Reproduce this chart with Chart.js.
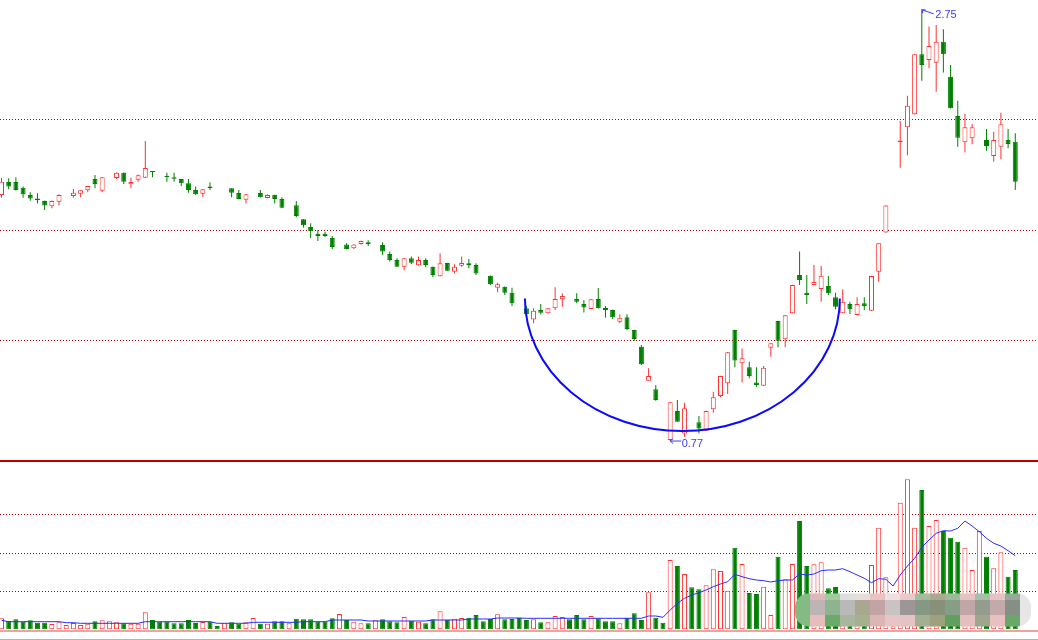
<!DOCTYPE html>
<html><head><meta charset="utf-8">
<script src="https://cdn.jsdelivr.net/npm/chart.js@4.4.1/dist/chart.umd.min.js"></script>
<style>
html,body{margin:0;padding:0;background:#fff;overflow:hidden;}
#wrap{position:relative;width:1038px;height:640px;background:#fff;}
#price{position:absolute;left:0;top:0;}
#sep{position:absolute;left:0;top:460px;width:1038px;height:2px;background:#b80000;}
#vol{position:absolute;left:0;top:462px;}
</style></head><body>
<div id="wrap">
<canvas id="price" width="1038" height="460"></canvas>
<div id="sep"></div>
<canvas id="vol" width="1038" height="178"></canvas>
</div>
<script>
// ---- data (one entry per trading day; null = no candle drawn) ----
const opens = [1.898,1.958,1.958,1.932,1.898,1.883,1.871,1.847,1.868,null,
 1.894,1.904,1.920,1.972,1.918,null,1.977,2.001,1.948,1.969,
 1.978,2.009,null,1.987,1.980,1.972,1.952,1.921,1.904,1.938,
 null,null,1.929,1.908,1.877,null,1.908,1.885,1.900,1.880,
 null,1.851,1.787,1.752,1.721,1.721,1.701,null,1.671,1.654,
 1.674,1.682,null,1.669,1.628,1.600,1.570,1.608,1.576,1.600,
 1.570,1.526,1.587,1.547,1.574,1.585,1.577,null,1.528,1.473,
 1.478,1.450,null,1.379,1.328,1.371,1.356,1.379,1.420,null,
 1.422,1.399,1.376,1.422,1.380,1.371,1.317,1.338,1.279,1.203,
 1.047,1.007,null,0.775,0.908,0.805,null,0.856,0.817,0.916,
 0.977,1.035,1.279,1.127,1.108,1.038,1.024,1.198,1.321,1.237,
 1.356,1.532,1.450,1.486,1.467,1.481,1.429,1.356,1.399,1.348,
 1.402,1.368,1.547,1.726,null,2.140,2.209,2.269,2.544,2.518,
 2.505,2.602,2.441,2.261,2.140,2.159,null,2.151,2.077,2.120,
 2.151,2.143];
const highs = [1.978,1.975,1.980,1.937,1.911,1.906,1.873,1.873,1.902,null,
 1.926,1.921,1.941,1.990,1.981,null,2.002,2.002,1.978,1.993,
 2.146,2.009,null,2.001,2.001,1.972,1.972,1.937,1.925,1.957,
 null,null,1.930,1.921,1.903,null,1.921,1.902,1.900,1.888,
 null,1.871,1.788,1.769,1.737,1.729,1.711,null,1.678,1.673,
 1.689,1.691,null,1.682,1.639,1.608,1.609,1.616,1.616,1.608,
 1.571,1.631,1.588,1.581,1.616,1.605,1.585,null,1.529,1.496,
 1.479,1.473,null,1.389,1.379,1.399,1.380,1.475,1.448,null,
 1.448,1.417,1.421,1.472,1.389,1.372,1.351,1.351,1.280,1.211,
 1.104,1.027,null,0.949,0.958,0.946,null,0.885,0.909,0.996,
 1.069,1.178,1.280,1.195,1.134,1.108,1.114,1.219,1.322,1.348,
 1.487,1.639,1.532,1.577,1.573,1.527,1.450,1.466,1.409,1.429,
 1.429,1.528,1.678,1.851,null,2.238,2.354,2.545,2.750,2.671,
 2.678,2.659,2.495,2.331,2.270,2.224,null,2.201,2.189,2.276,
 2.201,2.182];
const lows = [1.886,1.925,1.919,1.886,1.872,1.860,1.830,1.838,1.850,null,
 1.886,1.888,1.911,1.929,1.911,null,1.972,1.949,1.929,1.959,
 1.977,1.980,null,1.959,1.959,1.940,1.909,1.898,1.888,1.921,
 null,null,1.888,1.879,1.859,null,1.887,1.884,1.859,1.838,
 null,1.796,1.749,1.701,1.688,1.706,1.651,null,1.650,1.651,
 1.671,1.665,null,1.623,1.593,1.569,1.553,1.581,1.573,1.567,
 1.521,1.525,1.550,1.538,1.570,1.562,1.532,null,1.486,1.452,
 1.440,1.389,null,1.344,1.310,1.351,1.355,1.371,1.386,null,
 1.402,1.360,1.375,1.378,1.336,1.330,1.310,1.279,1.230,1.119,
 1.046,0.955,null,0.770,0.858,0.790,null,0.805,0.816,0.900,
 0.971,0.986,1.108,1.038,1.058,1.019,1.023,1.157,1.200,1.200,
 1.355,1.486,1.399,1.485,1.409,1.440,1.374,1.355,1.353,1.347,
 1.371,1.367,1.501,1.725,null,2.024,2.081,2.268,2.423,2.480,
 2.372,2.460,2.295,2.120,2.093,2.131,null,2.102,2.051,2.062,
 2.113,1.921];
const closes = [1.959,1.937,1.921,1.902,1.883,1.874,1.850,1.871,1.898,null,
 1.909,1.920,1.940,1.949,1.980,null,2.001,1.959,1.958,1.989,
 2.022,2.003,null,1.981,1.973,1.952,1.921,1.902,1.925,1.931,
 null,null,1.909,1.880,1.902,null,1.888,1.898,1.880,1.840,
 null,1.802,1.760,1.732,1.711,1.711,1.660,null,1.651,1.672,
 1.688,1.674,null,1.639,1.600,1.570,1.608,1.588,1.600,1.577,
 1.532,1.585,1.551,1.570,1.587,1.576,1.538,null,1.489,1.489,
 1.450,1.402,null,1.351,1.368,1.359,1.379,1.422,1.435,null,
 1.409,1.382,1.420,1.379,1.371,1.338,1.336,1.284,1.238,1.122,
 1.068,0.958,null,0.948,0.859,0.920,null,0.828,0.908,0.971,
 1.068,1.177,1.139,1.150,1.068,1.027,1.106,1.218,1.230,1.347,
 1.486,1.509,1.440,1.500,1.528,1.448,1.386,1.409,1.374,1.399,
 1.389,1.527,1.677,1.850,null,2.149,2.308,2.544,2.495,2.582,
 2.602,2.544,2.296,2.161,2.209,2.209,null,2.123,2.151,2.223,
 2.133,1.959];
// volume (relative units), up-day flag for the volume bar, and the 10-day volume average line
const volumes = [11.0,8.3,10.0,7.6,9.0,6.6,6.6,5.3,7.0,4.3,
 6.3,4.3,5.6,8.0,9.0,8.0,7.0,6.0,5.6,5.6,
 17.0,9.3,7.6,7.6,6.0,6.0,9.3,6.3,7.3,7.6,
 3.3,6.0,7.0,5.6,7.0,11.3,5.6,5.6,8.0,8.0,
 6.0,10.6,10.0,10.0,7.6,7.6,11.0,15.3,9.3,7.6,
 6.0,6.0,9.0,10.0,8.0,7.0,12.3,8.6,7.6,6.0,
 10.0,18.0,9.3,10.6,11.3,11.6,14.3,8.0,10.3,15.0,
 10.0,10.3,11.3,9.3,10.0,7.0,7.0,13.3,12.3,10.0,
 14.3,10.0,13.3,11.0,8.0,8.0,6.0,11.6,16.0,9.3,
 37.0,11.6,6.6,69.3,63.3,55.3,42.0,40.0,44.0,60.0,
 58.3,38.6,81.6,65.3,36.3,35.3,42.6,14.3,72.6,50.0,
 65.3,108.3,63.3,65.0,67.0,41.0,42.3,30.0,33.0,28.0,
 30.0,64.3,101.6,52.0,3.0,126.6,150.0,101.6,139.3,103.3,
 109.3,98.3,91.6,87.6,81.6,59.3,98.3,72.6,61.0,77.0,
 52.6,59.3];
const volUp = [1,0,0,0,0,0,0,1,1,1, 1,1,1,0,1,1,1,0,1,1,
 1,0,0,0,0,0,0,0,1,0, 0,1,0,0,1,1,0,1,0,0,
 1,0,0,0,0,0,0,1,0,1, 1,0,1,0,0,0,1,0,1,0,
 0,1,0,1,1,0,0,0,0,1, 0,0,0,0,1,0,1,1,1,0,
 0,0,1,0,0,0,1,0,0,0, 1,0,0,1,0,1,0,0,1,1,
 1,1,0,1,0,0,1,1,0,1, 1,0,0,1,1,0,0,1,0,1,
 0,1,1,1,1,1,1,1,0,1, 1,0,0,0,1,1,1,0,1,1,
 0,0];
const volMA = [9.0,7.6,7.6,7.6,7.6,7.6,7.6,7.6,7.6,6.6,
 6.6,6.0,6.0,6.0,6.0,6.0,6.0,6.0,6.0,6.0,
 7.6,7.6,7.6,7.6,7.6,7.6,7.6,7.6,7.6,7.6,
 6.0,6.0,6.0,6.0,6.0,7.0,7.0,7.0,7.0,7.0,
 7.0,7.0,7.6,7.6,7.6,7.6,9.3,9.3,9.3,9.3,
 9.3,8.3,8.3,8.3,8.3,8.3,8.3,8.3,8.3,8.3,
 9.3,9.3,9.3,9.3,9.3,10.3,10.3,10.3,10.3,11.3,
 11.3,11.3,11.3,11.0,11.0,11.0,11.0,11.0,11.0,11.0,
 11.0,11.0,11.0,11.0,11.0,11.0,11.0,11.0,11.0,11.0,
 13.3,13.3,12.0,19.3,26.0,31.0,34.3,36.6,39.3,42.6,
 45.3,47.6,55.0,52.6,50.6,49.3,48.6,47.3,48.6,49.3,
 49.3,55.3,54.3,55.3,58.6,59.3,59.3,60.6,57.6,54.3,
 51.0,46.6,50.6,50.0,43.3,54.3,63.3,71.0,82.0,89.3,
 96.0,98.6,98.3,101.0,108.3,103.3,97.6,91.0,86.0,83.3,
 78.6,73.6];
// horizontal reference (grid) levels
const priceGrid = [1.233, 1.738, 2.247];
const volGrid = [38.2, 76.3, 114.4];
// rounded-bottom (arc) annotation, in data terms
const arcFrom = 72.8, arcTo = 116.6, arcRim = 1.424, arcBottom = 0.816;
const highMarkIndex = 128, lowMarkIndex = 93;

// ---- styling ----
const RED = '#ff3030', GREEN = '#008000', GRIDC = '#b00000';
const X_MIN = -0.21, X_MAX = 144.16;

const idx = opens.map((_, i) => i).filter(i => opens[i] !== null);
const isUp = i => closes[i] >= opens[i];
const bodyData = idx.map(i => ({x: i, y: [opens[i], closes[i]]}));
const wickData = idx.map(i => ({x: i, y: [lows[i], highs[i]]}));
const bodyFill = idx.map(i => isUp(i) ? '#ffffff' : GREEN);
const bodyLine = idx.map(i => isUp(i) ? RED : GREEN);

const xScale = {type: 'linear', min: X_MIN, max: X_MAX, offset: false, grace: 0, display: false,
  grid: {offset: false}};
function gridAxis(min, max, levels) {
  return {
    type: 'linear', min, max, position: 'left', display: true,
    afterBuildTicks: s => { s.ticks = levels.map(v => ({value: v})); },
    afterFit: s => { s.width = 0; },
    ticks: {display: false},
    grid: {color: GRIDC, lineWidth: 1, drawTicks: false},
    border: {display: false, dash: [1, 2]}
  };
}

const annot = {
  id: 'annot',
  afterDatasetsDraw(chart) {
    const {ctx, scales: {x, y}} = chart;
    const x0 = x.getPixelForValue(arcFrom), x1 = x.getPixelForValue(arcTo);
    const yt = y.getPixelForValue(arcRim), yb = y.getPixelForValue(arcBottom);
    ctx.save();
    ctx.beginPath();
    ctx.ellipse((x0 + x1) / 2, yt, (x1 - x0) / 2, yb - yt, 0, 0, Math.PI, false);
    ctx.strokeStyle = '#0a0aff'; ctx.lineWidth = 2; ctx.stroke();

    ctx.strokeStyle = '#3a3aff'; ctx.fillStyle = '#3a3aff'; ctx.lineWidth = 1;
    ctx.font = '11px "Liberation Sans", Arial, sans-serif';
    // high marker
    const hx = x.getPixelForValue(highMarkIndex), hy = y.getPixelForValue(highs[highMarkIndex]);
    ctx.beginPath();
    ctx.moveTo(hx + 0.5, hy + 0.5); ctx.lineTo(hx + 12, hy + 4.5);
    ctx.moveTo(hx + 0.5, hy + 0.5); ctx.lineTo(hx + 1, hy + 4);
    ctx.moveTo(hx + 0.5, hy + 0.5); ctx.lineTo(hx + 4, hy + 0.5);
    ctx.stroke();
    ctx.textBaseline = 'alphabetic';
    ctx.fillText(highs[highMarkIndex].toFixed(2), hx + 13.5, hy + 9);
    // low marker
    const lx = x.getPixelForValue(lowMarkIndex), ly = y.getPixelForValue(lows[lowMarkIndex]);
    ctx.beginPath();
    ctx.moveTo(lx, ly); ctx.lineTo(lx + 11, ly);
    ctx.moveTo(lx, ly); ctx.lineTo(lx + 3, ly - 2.5);
    ctx.moveTo(lx, ly); ctx.lineTo(lx + 3, ly + 2.5);
    ctx.stroke();
    ctx.fillText(lows[lowMarkIndex].toFixed(2), lx + 11.5, ly + 5.5);
    ctx.restore();
  }
};

new Chart(document.getElementById('price'), {
  type: 'bar',
  data: {
    datasets: [
      {data: bodyData, backgroundColor: bodyFill, borderColor: bodyLine, borderWidth: 1,
       borderSkipped: false, barThickness: 5, grouped: false, minBarLength: 1, inflateAmount: 0, order: 0},
      {data: wickData, backgroundColor: bodyLine, borderWidth: 0, barThickness: 1,
       grouped: false, inflateAmount: 0, order: 1}
    ]
  },
  options: {
    responsive: false, animation: false, devicePixelRatio: 1,
    layout: {padding: 0},
    plugins: {legend: {display: false}, tooltip: {enabled: false}},
    scales: {x: xScale, y: gridAxis(0.683, 2.793, priceGrid)}
  },
  plugins: [annot]
});

const volBars = volumes.map((v, i) => ({x: i, y: v}));
const volLine = volMA.map((v, i) => ({x: i, y: v}));

const mosaicCols = [
  ['#dcb8b8','#bdb5b5','#e6bcbc'], ['#9fcb9f','#8fb38f','#6aaa6a'], ['#dedede','#b9b9b9','#aab59f'],
  ['#ebdcdc','#aaa791','#a8ae90'], ['#e9c2c2','#c3a3a3','#dcb5b5'], ['#f2dede','#cac3c3','#e5c5c5'],
  ['#e8caca','#9e9696','#e3c3c3'], ['#a6baa0','#849883','#a3ae92'], ['#a9a891','#87917a','#9fa07f'],
  ['#9bbb9b','#859e85','#5f9f5f'], ['#e3c3c3','#c0a6a6','#e3bfbf'], ['#a8bea8','#949c8f','#9fa68c'],
  ['#e3c3c3','#c3a9a9','#e8c0c0'], ['#98a898','#868f86','#6aa86a']
];
const frame = {
  id: 'frame',
  afterDraw(chart) {
    const {ctx, scales: {y}} = chart;
    const base = y.getPixelForValue(0);
    ctx.save();
    ctx.fillStyle = '#f2a0a0'; ctx.fillRect(0, base + 0.7, chart.width, 2);
    ctx.fillStyle = '#b4b4b4'; ctx.fillRect(0, 177, chart.width, 1);
    // blurred watermark block
    const x0 = 795, x1 = 1031, y0 = 131.3, y1 = 164.7, r = 14;
    ctx.beginPath();
    ctx.moveTo(x0 + r, y0); ctx.lineTo(x1 - r, y0); ctx.arcTo(x1, y0, x1, y0 + r, r);
    ctx.lineTo(x1, y1 - r); ctx.arcTo(x1, y1, x1 - r, y1, r); ctx.lineTo(x0 + r, y1);
    ctx.arcTo(x0, y1, x0, y1 - r, r); ctx.lineTo(x0, y0 + r); ctx.arcTo(x0, y0, x0 + r, y0, r);
    ctx.closePath(); ctx.clip();
    ctx.fillStyle = '#84bb84'; ctx.fillRect(x0, y0, 15, y1 - y0);
    ctx.fillStyle = '#e6e6e6'; ctx.fillRect(1020, y0, 12, y1 - y0);
    const rows = [[131.3, 138], [138, 153], [153, 164.7]];
    mosaicCols.forEach((col, k) => {
      rows.forEach((rw, j) => { ctx.fillStyle = col[j]; ctx.fillRect(810 + 15 * k, rw[0], 15, rw[1] - rw[0]); });
    });
    ctx.restore();
  }
};

new Chart(document.getElementById('vol'), {
  type: 'bar',
  data: {
    datasets: [
      {type: 'line', data: volLine, borderColor: '#2a2aff', borderWidth: 1, pointRadius: 0,
       tension: 0, fill: false, order: 0},
      {data: volBars, backgroundColor: volUp.map(u => u ? '#ffffff' : GREEN),
       borderColor: volUp.map(u => u ? RED : GREEN), borderWidth: 1, borderSkipped: false,
       barThickness: 5, grouped: false, inflateAmount: 0, order: 1}
    ]
  },
  options: {
    responsive: false, animation: false, devicePixelRatio: 1,
    layout: {padding: {top: 0, left: 0, right: 0, bottom: 10.7}},
    plugins: {legend: {display: false}, tooltip: {enabled: false}},
    scales: {x: xScale, y: gridAxis(0, 167.3, volGrid)}
  },
  plugins: [frame]
});
</script>
</body></html>
